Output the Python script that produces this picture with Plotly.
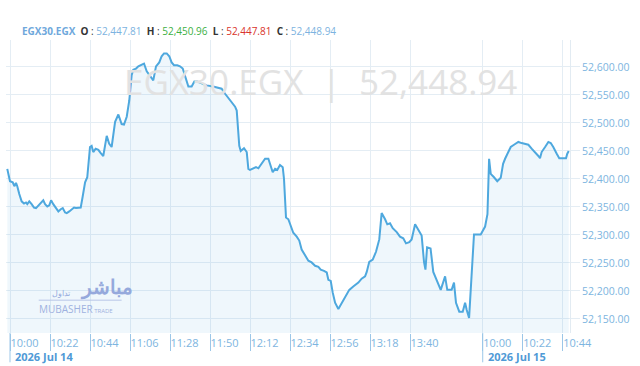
import plotly.graph_objects as go

# ---- data (minute index from 10:00 on 2026-07-14; day 2 follows after a gap) ----
minute_index = [-1.5, 0, 1.5, 2.4, 3.3, 4, 5.1, 6.4, 7.7, 8.8, 9.5, 10.6, 11.9, 13.2, 14.3, 15.6, 16.9,
                18.3, 19.3, 20.5, 21.6, 22.6, 23.8, 25.3, 26.6, 27.9, 29, 30.3, 31.2, 32.6, 33.9, 35.2,
                36.3, 37.6, 38.9, 40, 41.3, 42.5, 44, 44.9, 45.8, 47.1, 48.6, 49.9, 51.3, 53.2, 54.5,
                55.9, 57.8, 59.6, 61.4, 62.7, 64.2, 65.6, 66.9, 67.8, 69.3, 70.6, 72.4, 73.7, 75.2, 77,
                78.8, 80.3, 82.1, 83.4, 84.7, 86.2, 87.6, 88.9, 90.2, 92, 93.5, 95, 96.8, 98.1, 99.9,
                101.4, 103, 104.5, 106.3, 108.2, 111.7, 116.4, 118.3, 121, 123.8, 124.7, 125.6, 126.1,
                126.9, 128.7, 130.2, 131.1, 132, 133.8, 135.3, 136.6, 138.4, 140.3, 142.1, 143.4, 144.5,
                145.8, 147, 148.5, 150, 150.7, 151.3, 151.8, 153.1, 154.4, 155.8, 157.7, 159.1, 160.4,
                162.3, 164.1, 165.9, 167.8, 169.6, 170.9, 172.7, 174.2, 175.1, 176.4, 177.5, 178.8,
                180.6, 182.4, 184.3, 186.6, 188.8, 191.6, 193.4, 195.3, 196.2, 197.6, 199.5, 201.3,
                203.1, 204.4, 206.3, 207.5, 209, 210.5, 212.7, 214.5, 216.3, 217.8, 219.6, 220.9, 222.8,
                224.6, 226.4, 227.7, 228.5, 229.4, 231.3, 232.8, 235, 236.9, 239.3, 240.5, 242.9, 244.2,
                245.3, 247.1, 249, 250.3, 251.2, 252.5, 255.2, 258.9, 261.3, 262.6, 263.5, 264.4, 266.2,
                268, 269.9, 271.2, 272.3, 274.1, 275.4, 277.2, 279.6, 281.4, 283.3, 285.1, 286.9, 288.8,
                290.6, 291.5, 292.4, 294.3, 296.1, 297.4, 298.8, 300.7, 302.1, 304, 305.8, 306.5, 307.3]
egx30 = [52418, 52396, 52394, 52387, 52393, 52387, 52373, 52360, 52356, 52358, 52355, 52360, 52355,
         52349, 52348, 52353, 52357, 52362, 52355, 52351, 52353, 52362, 52355, 52349, 52342, 52346,
         52348, 52340, 52339, 52342, 52346, 52349, 52348, 52349, 52349, 52369, 52394, 52403, 52457,
         52459, 52448, 52454, 52452, 52446, 52441, 52477, 52463, 52457, 52502, 52515, 52498, 52497,
         52511, 52540, 52585, 52595, 52597, 52601, 52604, 52606, 52592, 52583, 52576, 52601, 52608,
         52619, 52624, 52624, 52619, 52608, 52603, 52603, 52601, 52597, 52579, 52565, 52565, 52574,
         52574, 52572, 52569, 52567, 52565, 52561, 52552, 52540, 52529, 52522, 52490, 52459, 52450,
         52455, 52448, 52418, 52416, 52418, 52421, 52419, 52427, 52436, 52436, 52423, 52412, 52418,
         52416, 52425, 52421, 52400, 52369, 52331, 52328, 52315, 52304, 52297, 52290, 52274, 52263,
         52254, 52251, 52245, 52243, 52238, 52236, 52233, 52220, 52218, 52197, 52179, 52168, 52179,
         52190, 52202, 52208, 52215, 52222, 52226, 52234, 52252, 52256, 52270, 52292, 52339, 52328,
         52319, 52321, 52312, 52305, 52297, 52294, 52285, 52287, 52292, 52319, 52310, 52299, 52252,
         52238, 52278, 52276, 52234, 52215, 52202, 52226, 52202, 52202, 52215, 52179, 52163, 52163,
         52179, 52166, 52152, 52301, 52301, 52315, 52337, 52436, 52409, 52403, 52396, 52402, 52427,
         52436, 52448, 52457, 52461, 52466, 52464, 52463, 52461, 52454, 52448, 52441, 52437, 52448,
         52457, 52466, 52464, 52457, 52445, 52437, 52437, 52437, 52445, 52450]

tick_minutes = [0, 22, 44, 66, 88, 110, 132, 154, 176, 198, 220, 260, 282, 304]
tick_labels = ["10:00", "10:22", "10:44", "11:06", "11:28", "11:50", "12:12", "12:34", "12:56",
               "13:18", "13:40", "10:00", "10:22", "10:44"]
day_minutes = [0, 260]
day_labels = ["2026 Jul 14", "2026 Jul 15"]
y_ticks = [52150, 52200, 52250, 52300, 52350, 52400, 52450, 52500, 52550, 52600]

symbol = "EGX30.EGX"
ohlc = {"O": "52,447.81", "H": "52,450.96", "L": "52,447.81", "C": "52,448.94"}

LINE = "#4ea8de"
LABEL = "#7db5e0"
GRID = "#e4edf4"
FONT = "Open Sans"

fig = go.Figure()
fig.add_trace(go.Scatter(
    x=minute_index, y=egx30, mode="lines",
    line=dict(color=LINE, width=2),
    fill="tozeroy", fillcolor="rgba(78,168,222,0.09)",
    hoverinfo="skip", showlegend=False,
))

fig.update_layout(
    width=640, height=366,
    margin=dict(l=6, r=70, t=40, b=33),
    paper_bgcolor="white", plot_bgcolor="white",
    font=dict(family=FONT, size=11, color=LABEL),
    xaxis=dict(
        range=[-2.2, 308], tickmode="array", tickvals=tick_minutes, ticktext=tick_labels,
        showgrid=True, gridcolor=GRID, gridwidth=1, zeroline=False,
        ticks="outside", ticklen=17, tickcolor="#9cc7e8", tickwidth=1,
        ticklabelposition="outside right", tickfont=dict(size=11, color=LABEL),
        showline=False,
    ),
    yaxis=dict(
        range=[52125, 52648], side="right", tickmode="array", tickvals=y_ticks,
        tickformat=",.2f", showgrid=True, gridcolor=GRID, zeroline=False,
        tickfont=dict(size=10.5, color=LABEL), ticks="outside", ticklen=9, tickcolor=GRID,
        showline=True, linecolor="#e2ebf2", linewidth=1,
    ),
)

# longer day separators under first tick of each day
for d in day_minutes:
    fig.add_shape(type="line", xref="x", yref="paper", x0=d, x1=d, y0=0, y1=-0.1,
                  line=dict(color="#9cc7e8", width=1))

for d, lab in zip(day_minutes, day_labels):
    fig.add_annotation(x=d, y=-0.08, xref="x", yref="paper", text=f"<b>{lab}</b>",
                       showarrow=False, xanchor="left", yanchor="middle", xshift=3,
                       font=dict(family=FONT, size=11, color="#4f9ad6"))

# header
header = (f"<b>{symbol}</b>  <b><span style='color:#333'>O</span></b><span style='color:#333'> : </span>"
          f"<span style='color:#7cb3e0'>{ohlc['O']}</span>  "
          f"<b><span style='color:#333'>H</span></b><span style='color:#333'> : </span>"
          f"<span style='color:#3cb043'>{ohlc['H']}</span>  "
          f"<b><span style='color:#333'>L</span></b><span style='color:#333'> : </span>"
          f"<span style='color:#d9342b'>{ohlc['L']}</span>  "
          f"<b><span style='color:#333'>C</span></b><span style='color:#333'> : </span>"
          f"<span style='color:#7cb3e0'>{ohlc['C']}</span>")
fig.add_annotation(x=0.0248, y=1.031, xref="paper", yref="paper", text=header, showarrow=False,
                   xanchor="left", yanchor="middle", font=dict(family=FONT, size=10, color="#6fa8dc"))

# watermark
fig.add_annotation(x=0.557, y=0.857, xref="paper", yref="paper",
                   text=f"{symbol}  |  {ohlc['C']}", showarrow=False,
                   xanchor="center", yanchor="middle",
                   font=dict(family=FONT, size=35, color="#e2e2e2"))

# logo
fig.add_annotation(x=0.178, y=0.158, xref="paper", yref="paper", text="<b>مباشر</b>", showarrow=False,
                   xanchor="center", yanchor="middle", font=dict(family="Noto Sans", size=20, color="#95a9dc"))
fig.add_annotation(x=0.098, y=0.138, xref="paper", yref="paper", text="تداول", showarrow=False,
                   xanchor="center", yanchor="middle", font=dict(family="Noto Sans", size=8, color="#95a9dc"))
fig.add_shape(type="line", xref="paper", yref="paper", x0=0.058, x1=0.205, y0=0.112, y1=0.112,
              line=dict(color="#b8c6e8", width=1))
fig.add_annotation(x=0.055, y=0.083, xref="paper", yref="paper",
                   text="MUBASHER<span style='font-size:6px'> TRADE</span>", showarrow=False,
                   xanchor="left", yanchor="middle", font=dict(family="Open Sans", size=10, color="#9fb2e0"))

fig.write_html("out.html")
